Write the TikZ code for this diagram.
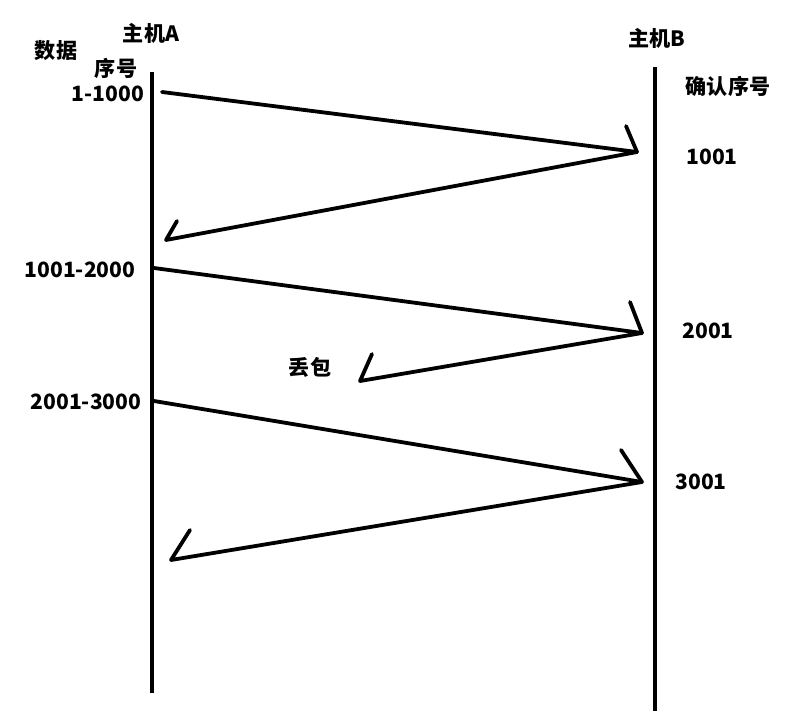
\documentclass[tikz,border=0pt]{standalone}
\usepackage{fontspec}
\setmainfont{Noto Sans CJK SC}
\usetikzlibrary{positioning}

\begin{document}
\begin{tikzpicture}[
  x=0.025cm, y=-0.025cm,
  font=\fontsize{15}{18}\selectfont\bfseries,
  txt/.style={inner sep=0pt, anchor=center},
  lifeline/.style={line width=2.9pt},
  msg/.style={line width=2.7pt, line cap=round, line join=round},
]
\useasboundingbox (0,0) rectangle (802,711);

% hosts and their lifelines
\node[txt] (hostA) at (151,33) {主机A};
\node[txt] (hostB) at (657,38) {主机B};
\coordinate (atop) at (152,72);
\coordinate (abot) at (152,693);
\coordinate (btop) at (655,67);
\coordinate (bbot) at (655,711);
\draw[lifeline] (atop) -- (abot);
\draw[lifeline] (btop) -- (bbot);

% column headings
\node[txt] (data) at (56,51) {数据};
\node[txt] (seq) at (116,68) {序号};
\node[txt] (ackseq) at (728,86) {确认序号};

% data ranges and ack numbers
\node[txt] (d1) at (108,94) {1-1000};
\node[txt] (d2) at (80,270) {1001-2000};
\node[txt] (d3) at (86,402) {2001-3000};
\node[txt] (k1) at (712,157) {1001};
\node[txt] (k2) at (708,331) {2001};
\node[txt] (k3) at (701,482) {3001};
\node[txt] (lost) at (310,367) {丢包};

% segment 1
\coordinate (s1) at (162,92);
\coordinate (t1) at (637,152);
\coordinate (tb1) at (626,126);
\coordinate (r1) at (166,240);
\coordinate (rb1) at (177,221);
\draw[msg] (s1) -- (t1) -- (r1) -- (rb1);
\draw[msg] (tb1) -- (t1);

% segment 2 (ack lost)
\coordinate (s2) at (154,268);
\coordinate (t2) at (642,333);
\coordinate (tb2) at (630,302);
\coordinate (r2) at (360,381);
\coordinate (rb2) at (372,354);
\draw[msg] (s2) -- (t2) -- (r2) -- (rb2);
\draw[msg] (tb2) -- (t2);

% segment 3
\coordinate (s3) at (154,401);
\coordinate (t3) at (642,482);
\coordinate (tb3) at (621,450);
\coordinate (r3) at (171,560);
\coordinate (rb3) at (190,530);
\draw[msg] (s3) -- (t3) -- (r3) -- (rb3);
\draw[msg] (tb3) -- (t3);
\end{tikzpicture}
\end{document}
